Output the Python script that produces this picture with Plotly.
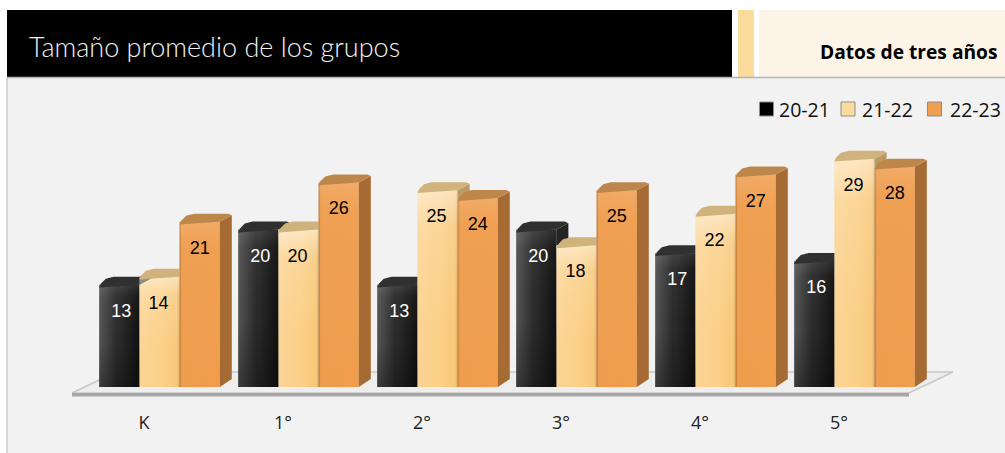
import plotly.graph_objects as go

categories = ["K", "1°", "2°", "3°", "4°", "5°"]
series_names = ["20-21", "21-22", "22-23"]
values_2021 = [13, 20, 13, 20, 17, 16]
values_2122 = [14, 20, 25, 18, 22, 29]
values_2223 = [21, 26, 24, 25, 27, 28]
all_values = [values_2021, values_2122, values_2223]

W, H = 1005, 453
PX_X = 139.0          # px per group
X0_PX = 159.5         # px of first group centre
PX_Y = 7.87           # px per unit
Y0_PX = 387.0         # px of value 0
AXIS_BOTTOM_PX = 410

def dx_of(px): return (px - X0_PX) / PX_X
def dy_of(py): return (Y0_PX - py) / PX_Y
def px(x): return x / W
def py(y): return 1 - y / H

BW = 40.2 / PX_X
DX = 12 / PX_X
DY = 8 / PX_Y
OFFS = [-BW, 0, BW]
LABEL_NUDGE = [2 / PX_X, -1 / PX_X, 0]
LABEL_DROP = 3.5

FRONT = ["#2a2a2a", "#fbd089", "#ee9d4e"]
H_SHADE = [
    [[0, "rgba(255,255,255,0.20)"], [0.45, "rgba(255,255,255,0)"], [0.5, "rgba(0,0,0,0)"], [1, "rgba(0,0,0,0.6)"]],
    [[0, "rgba(255,255,255,0.10)"], [0.5, "rgba(255,255,255,0)"], [0.55, "rgba(240,170,60,0)"], [0.94, "rgba(240,170,60,0.22)"], [1, "rgba(120,80,30,0.30)"]],
    [[0, "rgba(110,65,20,0.45)"], [0.05, "rgba(110,65,20,0)"], [0.1, "rgba(255,160,70,0)"], [1, "rgba(255,160,70,0.15)"]],
]
V_SHADE = [
    [[0, "rgba(255,255,255,0.12)"], [0.12, "rgba(255,255,255,0.03)"], [0.5, "rgba(255,255,255,0)"], [0.55, "rgba(0,0,0,0)"], [1, "rgba(0,0,0,0.30)"]],
    [[0, "rgba(255,255,255,0.48)"], [0.18, "rgba(255,255,255,0.14)"], [0.7, "rgba(255,255,255,0)"], [1, "rgba(255,255,255,0)"]],
    [[0, "rgba(255,255,255,0.14)"], [0.15, "rgba(255,255,255,0.03)"], [1, "rgba(255,255,255,0)"]],
]
TOP = ["#303030", "#cfb27c", "#bd864a"]
SIDE = ["#242424", "#bd9b60", "#a56b33"]
TEXT = ["white", "black", "black"]
SWATCH = ["#000000", "#fbdc9c", "#ee9f50"]

fig = go.Figure()

# real bars (front faces)
for s, vals in enumerate(all_values):
    fig.add_bar(x=[i + OFFS[s] for i in range(6)], y=vals, width=BW, name=series_names[s],
                marker=dict(color=FRONT[s], line_width=0), hoverinfo="skip", showlegend=False)

def poly(xs, ys, color=None, grad=None):
    kw = dict(fillcolor=color) if color else dict(fillgradient=grad)
    fig.add_scatter(x=xs + xs[:1], y=ys + ys[:1], mode="lines", line_width=0, fill="toself",
                    hoverinfo="skip", showlegend=False, **kw)

# depth faces, left to right so nearer bars cover farther ones
for i in range(6):
    for s, vals in enumerate(all_values):
        v = vals[i]
        l = i + OFFS[s] - BW / 2
        r = l + BW
        nxt = all_values[s + 1][i] if s < 2 else 0
        # front shading
        poly([l, r, r, l], [0, 0, v, v], grad=dict(type="horizontal", colorscale=H_SHADE[s]))
        poly([l, r, r, l], [0, 0, v, v], grad=dict(type="vertical", colorscale=[[1 - a, c] for a, c in V_SHADE[s]][::-1]))
        # side face
        if nxt < v + DY:
            low = max(nxt, 0)
            if low == 0:
                poly([r, r + DX, r + DX, r], [0, DY, v + DY * 0.8, v], color=SIDE[s])
            else:
                poly([r, r + DX, r + DX, r], [low, low, v + DY * 0.8, v], color=SIDE[s])
        # top face, softened corners
        tl = [l, l + DX * 0.15, l + DX * 0.55, l + DX * 1.2]
        tly = [v - DY * 0.35, v + DY * 0.15, v + DY * 0.75, v + DY]
        if nxt >= v + DY:
            poly(tl + [r, r], tly + [v + DY, v], color=TOP[s])
        else:
            poly(tl + [r + DX * 0.7, r + DX, r], tly + [v + DY, v + DY * 0.8, v], color=TOP[s])

# value labels
for s, vals in enumerate(all_values):
    fig.add_scatter(x=[i + OFFS[s] + LABEL_NUDGE[s] for i in range(6)], y=[v - LABEL_DROP for v in vals],
                    mode="text", text=[str(v) for v in vals], textposition="middle center",
                    textfont=dict(family="Liberation Sans", size=18, color=TEXT[s]),
                    hoverinfo="skip", showlegend=False)

def path(points):
    return "M" + " L".join(f"{dx_of(a)},{dy_of(b)}" for a, b in points) + " Z"

shapes = [
    dict(type="rect", xref="paper", yref="paper", x0=px(7), x1=1, y0=0, y1=py(78), fillcolor="#f2f2f2", line_width=0, layer="below"),
    dict(type="line", xref="paper", yref="paper", x0=px(7), x1=px(7), y0=0, y1=py(78), line=dict(color="#b4b4b4", width=1), layer="below"),
    dict(type="rect", xref="paper", yref="paper", x0=px(7), x1=px(732), y0=py(77), y1=py(10), fillcolor="#000000", line_width=0, layer="below"),
    dict(type="rect", xref="paper", yref="paper", x0=px(738), x1=px(754), y0=py(77), y1=py(10), fillcolor="#fbdc9c", line_width=0, layer="below"),
    dict(type="rect", xref="paper", yref="paper", x0=px(759), x1=1, y0=py(77), y1=py(10), fillcolor="#fdf4e8", line_width=0, layer="below"),
    dict(type="line", xref="paper", yref="paper", x0=px(7), x1=1, y0=py(77.5), y1=py(77.5), line=dict(color="#b4b4b4", width=1.5), layer="below"),
    # floor
    dict(type="path", xref="x", yref="y", path=path([(72, 393), (116, 372), (953, 372), (909, 393)]), fillcolor="#eeeeee", line=dict(color="#c8c8c8", width=1.5), layer="below"),
    dict(type="path", xref="x", yref="y", path=path([(72, 393), (909, 393), (909, 396.5), (72, 396.5)]), fillcolor="#a6a6a6", line_width=0, layer="below"),
]
for s, x0 in enumerate([759.5, 841, 927.5]):
    shapes.append(dict(type="rect", xref="paper", yref="paper", x0=px(x0), x1=px(x0 + 14), y0=py(116), y1=py(102),
                       fillcolor=SWATCH[s], line=dict(color="#8c8c8c", width=1), layer="above"))

def note(text, x, y, size, color="black", anchor="left", family="Open Sans", weight=None):
    f = dict(family=family, size=size, color=color)
    if weight: f["weight"] = weight
    return dict(text=text, xref="paper", yref="paper", x=px(x), y=py(y), xanchor=anchor, yanchor="middle",
                showarrow=False, font=f)

annotations = [
    note("Tamaño promedio de los grupos", 27, 47, 27, "#f2f2f2", family="Lato", weight=300),
    note("Datos de tres años", 1000, 51, 19.2, "black", "right", "Open Sans", 700),
]
for s, x0 in enumerate([777, 860, 948]):
    annotations.append(note(series_names[s], x0 - 0.5, 109, 19.5, "#111111"))

fig.update_layout(
    width=W, height=H, margin=dict(l=0, r=0, t=0, b=0), autosize=False,
    paper_bgcolor="white", plot_bgcolor="rgba(0,0,0,0)",
    barmode="overlay", showlegend=False, shapes=shapes, annotations=annotations,
    xaxis=dict(range=[dx_of(0), dx_of(W)], tickvals=[i - 15.5 / PX_X for i in range(6)], ticktext=categories,
               showgrid=False, zeroline=False, showline=False, ticks="", fixedrange=True,
               tickfont=dict(family="Open Sans", size=18, color="#222222"), automargin=False),
    yaxis=dict(domain=[py(AXIS_BOTTOM_PX), 1], range=[dy_of(AXIS_BOTTOM_PX), dy_of(0)], visible=False, fixedrange=True),
)
fig.write_html("out.html", config=dict(displayModeBar=False), post_script="document.body.style.margin='0';")
